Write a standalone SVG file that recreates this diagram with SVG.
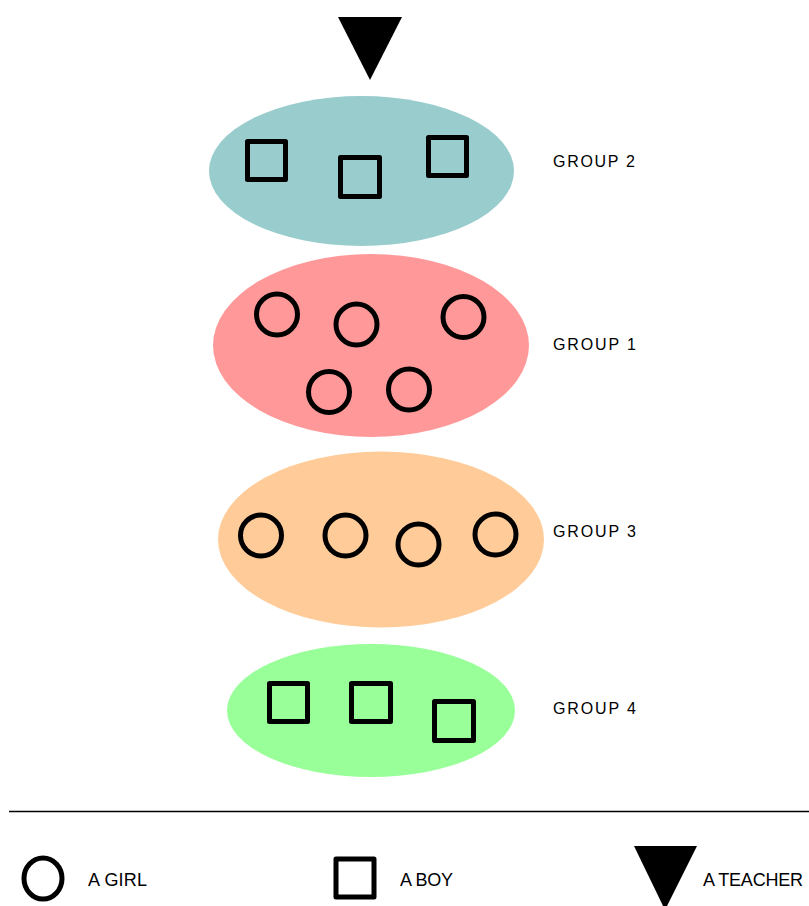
<svg xmlns="http://www.w3.org/2000/svg" width="809" height="906" viewBox="0 0 809 906">
  <style>
    .girl { fill: none; stroke: #000; stroke-width: 5; }
    .boy { fill: none; stroke: #000; stroke-width: 5; stroke-linejoin: round; }
    .teacher { fill: #000; stroke: none; }
    .label { font-family: "Liberation Sans", Arial, sans-serif; font-size: 16px; fill: #000; }
    .legend { font-family: "Liberation Sans", Arial, sans-serif; font-size: 18px; fill: #000; }
  </style>
  <rect width="809" height="906" fill="#fff"/>

  <!-- teacher at the front -->
  <g id="teacher">
    <polygon class="teacher" points="338,17 402,17 370,80"/>
  </g>

  <!-- group 2: boys -->
  <g id="group2">
    <ellipse cx="361.5" cy="171" rx="152.5" ry="75" fill="#99CCCC"/>
    <rect class="boy" x="247.5" y="141.5" width="38" height="38"/>
    <rect class="boy" x="340.5" y="157.5" width="39" height="39"/>
    <rect class="boy" x="428.5" y="137.5" width="38" height="38"/>
    <text class="label" x="553" y="167" textLength="82">GROUP 2</text>
  </g>

  <!-- group 1: girls -->
  <g id="group1">
    <ellipse cx="371" cy="345.5" rx="158" ry="91.5" fill="#FF9999"/>
    <circle class="girl" cx="277" cy="314.5" r="20.5"/>
    <circle class="girl" cx="356.5" cy="324.5" r="20.5"/>
    <circle class="girl" cx="463.5" cy="317" r="20.5"/>
    <circle class="girl" cx="329" cy="392" r="20.5"/>
    <circle class="girl" cx="409" cy="389.5" r="20.5"/>
    <text class="label" x="553" y="350" textLength="83">GROUP 1</text>
  </g>

  <!-- group 3: girls -->
  <g id="group3">
    <ellipse cx="381" cy="539.5" rx="163" ry="88" fill="#FFCC99"/>
    <circle class="girl" cx="261" cy="535.5" r="20.5"/>
    <circle class="girl" cx="345.5" cy="535.5" r="20.5"/>
    <circle class="girl" cx="418.5" cy="544.5" r="20.5"/>
    <circle class="girl" cx="495.5" cy="534.5" r="20.5"/>
    <text class="label" x="553" y="537" textLength="83">GROUP 3</text>
  </g>

  <!-- group 4: boys -->
  <g id="group4">
    <ellipse cx="371" cy="710.5" rx="144" ry="66.5" fill="#99FF99"/>
    <rect class="boy" x="269.5" y="683.5" width="38" height="38"/>
    <rect class="boy" x="351.5" y="683.5" width="39" height="38"/>
    <rect class="boy" x="434.5" y="701.5" width="39" height="39"/>
    <text class="label" x="553" y="714" textLength="83">GROUP 4</text>
  </g>

  <!-- separator -->
  <g id="connectors">
    <line x1="9" y1="811.5" x2="809" y2="811.5" stroke="#000" stroke-width="1.6"/>
  </g>

  <!-- legend -->
  <g id="legend-girl">
    <ellipse class="girl" cx="43" cy="878.5" rx="19" ry="20.5" stroke-width="5.5"/>
    <text class="legend" x="88" y="886" textLength="59">A GIRL</text>
  </g>
  <g id="legend-boy">
    <rect class="boy" x="336" y="859" width="38" height="38" stroke-width="6"/>
    <text class="legend" x="400" y="886" textLength="53">A BOY</text>
  </g>
  <g id="legend-teacher">
    <polygon class="teacher" points="634,846 697,846 665,910"/>
    <text class="legend" x="703" y="886" textLength="100">A TEACHER</text>
  </g>
</svg>
